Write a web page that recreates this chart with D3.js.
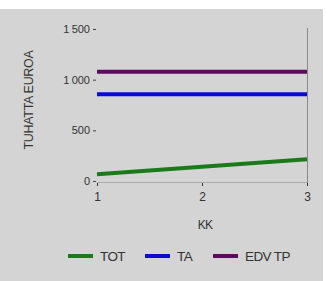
<!DOCTYPE html>
<html>
<head>
<meta charset="utf-8">
<script src="https://cdn.jsdelivr.net/npm/d3@7"></script>
<style>
  body { margin: 0; background: #fff; }
  text { font-family: 'Liberation Sans', Arial, sans-serif; fill: #333; }
</style>
</head>
<body>
<div id="chart"></div>
<script>
// chart data
var xValues = [1, 2, 3];
var totValues = [66, 140, 214];
var taValues = [856, 856, 856];
var edvValues = [1079, 1079, 1079];
var seriesNames = ['TOT', 'TA', 'EDV TP'];
var seriesColors = ['#1a7a1a', '#0a0ad0', '#5e0a5e'];
var yTicks = [0, 500, 1000, 1500];

var width = 327;
var height = 281;
var plotLeft = 97;
var plotRight = 307;
var plotTop = 29;
var plotBottom = 181;

var svg = d3.select('#chart').append('svg')
    .attr('width', width)
    .attr('height', height);

// grey panel
svg.append('rect')
    .attr('x', 0).attr('y', 9)
    .attr('width', 323).attr('height', height - 9)
    .attr('fill', '#d4d4d4');

var xScale = d3.scaleLinear().domain([1, 3]).range([plotLeft, plotRight]);
var yScale = d3.scaleLinear().domain([0, 1500]).range([plotBottom, plotTop]);

// x axis line
svg.append('line')
    .attr('x1', plotLeft).attr('x2', plotRight)
    .attr('y1', plotBottom + 1.5).attr('y2', plotBottom + 1.5)
    .attr('stroke', '#aaa').attr('stroke-width', 1);

// right edge line
svg.append('line')
    .attr('x1', plotRight + 0.5).attr('x2', plotRight + 0.5)
    .attr('y1', plotTop - 1).attr('y2', plotBottom + 2)
    .attr('stroke', '#8a8a8a').attr('stroke-width', 1);

var xAxis = d3.axisBottom(xScale)
    .tickValues(xValues)
    .tickFormat(d3.format('d'))
    .tickSize(3)
    .tickSizeOuter(0);

var gx = svg.append('g')
    .attr('transform', 'translate(0,' + (plotBottom + 2) + ')')
    .call(xAxis);
gx.select('.domain').remove();
gx.selectAll('line').attr('stroke', '#333');
gx.selectAll('text')
    .attr('font-size', 12)
    .attr('dy', '1.0em')
    .style('fill', '#333');

var yAxis = d3.axisLeft(yScale)
    .tickValues(yTicks)
    .tickFormat(function(d) { return d3.format(',')(d).replace(',', '\u2009'); })
    .tickSize(3)
    .tickPadding(3);

var gy = svg.append('g')
    .attr('transform', 'translate(' + (plotLeft - 1) + ',0)')
    .call(yAxis);
gy.select('.domain').remove();
gy.selectAll('line').attr('stroke', '#444');
gy.selectAll('text')
    .attr('font-size', 11)
    .style('fill', '#333');

// series lines
var allSeries = [totValues, taValues, edvValues];
var line = d3.line()
    .x(function(d, i) { return xScale(xValues[i]); })
    .y(function(d) { return yScale(d); });

[edvValues, taValues, totValues].forEach(function(values) {
    var idx = allSeries.indexOf(values);
    svg.append('path')
        .datum(values)
        .attr('d', line)
        .attr('fill', 'none')
        .attr('stroke', seriesColors[idx])
        .attr('stroke-width', 4);
});

// axis titles
svg.append('text')
    .attr('x', xScale(2) + 3)
    .attr('y', 229)
    .attr('text-anchor', 'middle')
    .attr('font-size', 12)
    .attr('letter-spacing', -0.8)
    .text('KK');

svg.append('text')
    .attr('transform', 'translate(33,100) rotate(-90)')
    .attr('text-anchor', 'middle')
    .attr('font-size', 12.5)
    .attr('letter-spacing', -0.3)
    .text('TUHATTA EUROA');

// legend
var legendX = [68, 145, 213];
var legend = svg.append('g');
seriesNames.forEach(function(name, i) {
    legend.append('line')
        .attr('x1', legendX[i]).attr('x2', legendX[i] + 25)
        .attr('y1', 256).attr('y2', 256)
        .attr('stroke', seriesColors[i])
        .attr('stroke-width', 4);
    legend.append('text')
        .attr('x', legendX[i] + 32)
        .attr('y', 261)
        .attr('font-size', 13.5)
        .attr('letter-spacing', -0.6)
        .text(name);
});
</script>
</body>
</html>
